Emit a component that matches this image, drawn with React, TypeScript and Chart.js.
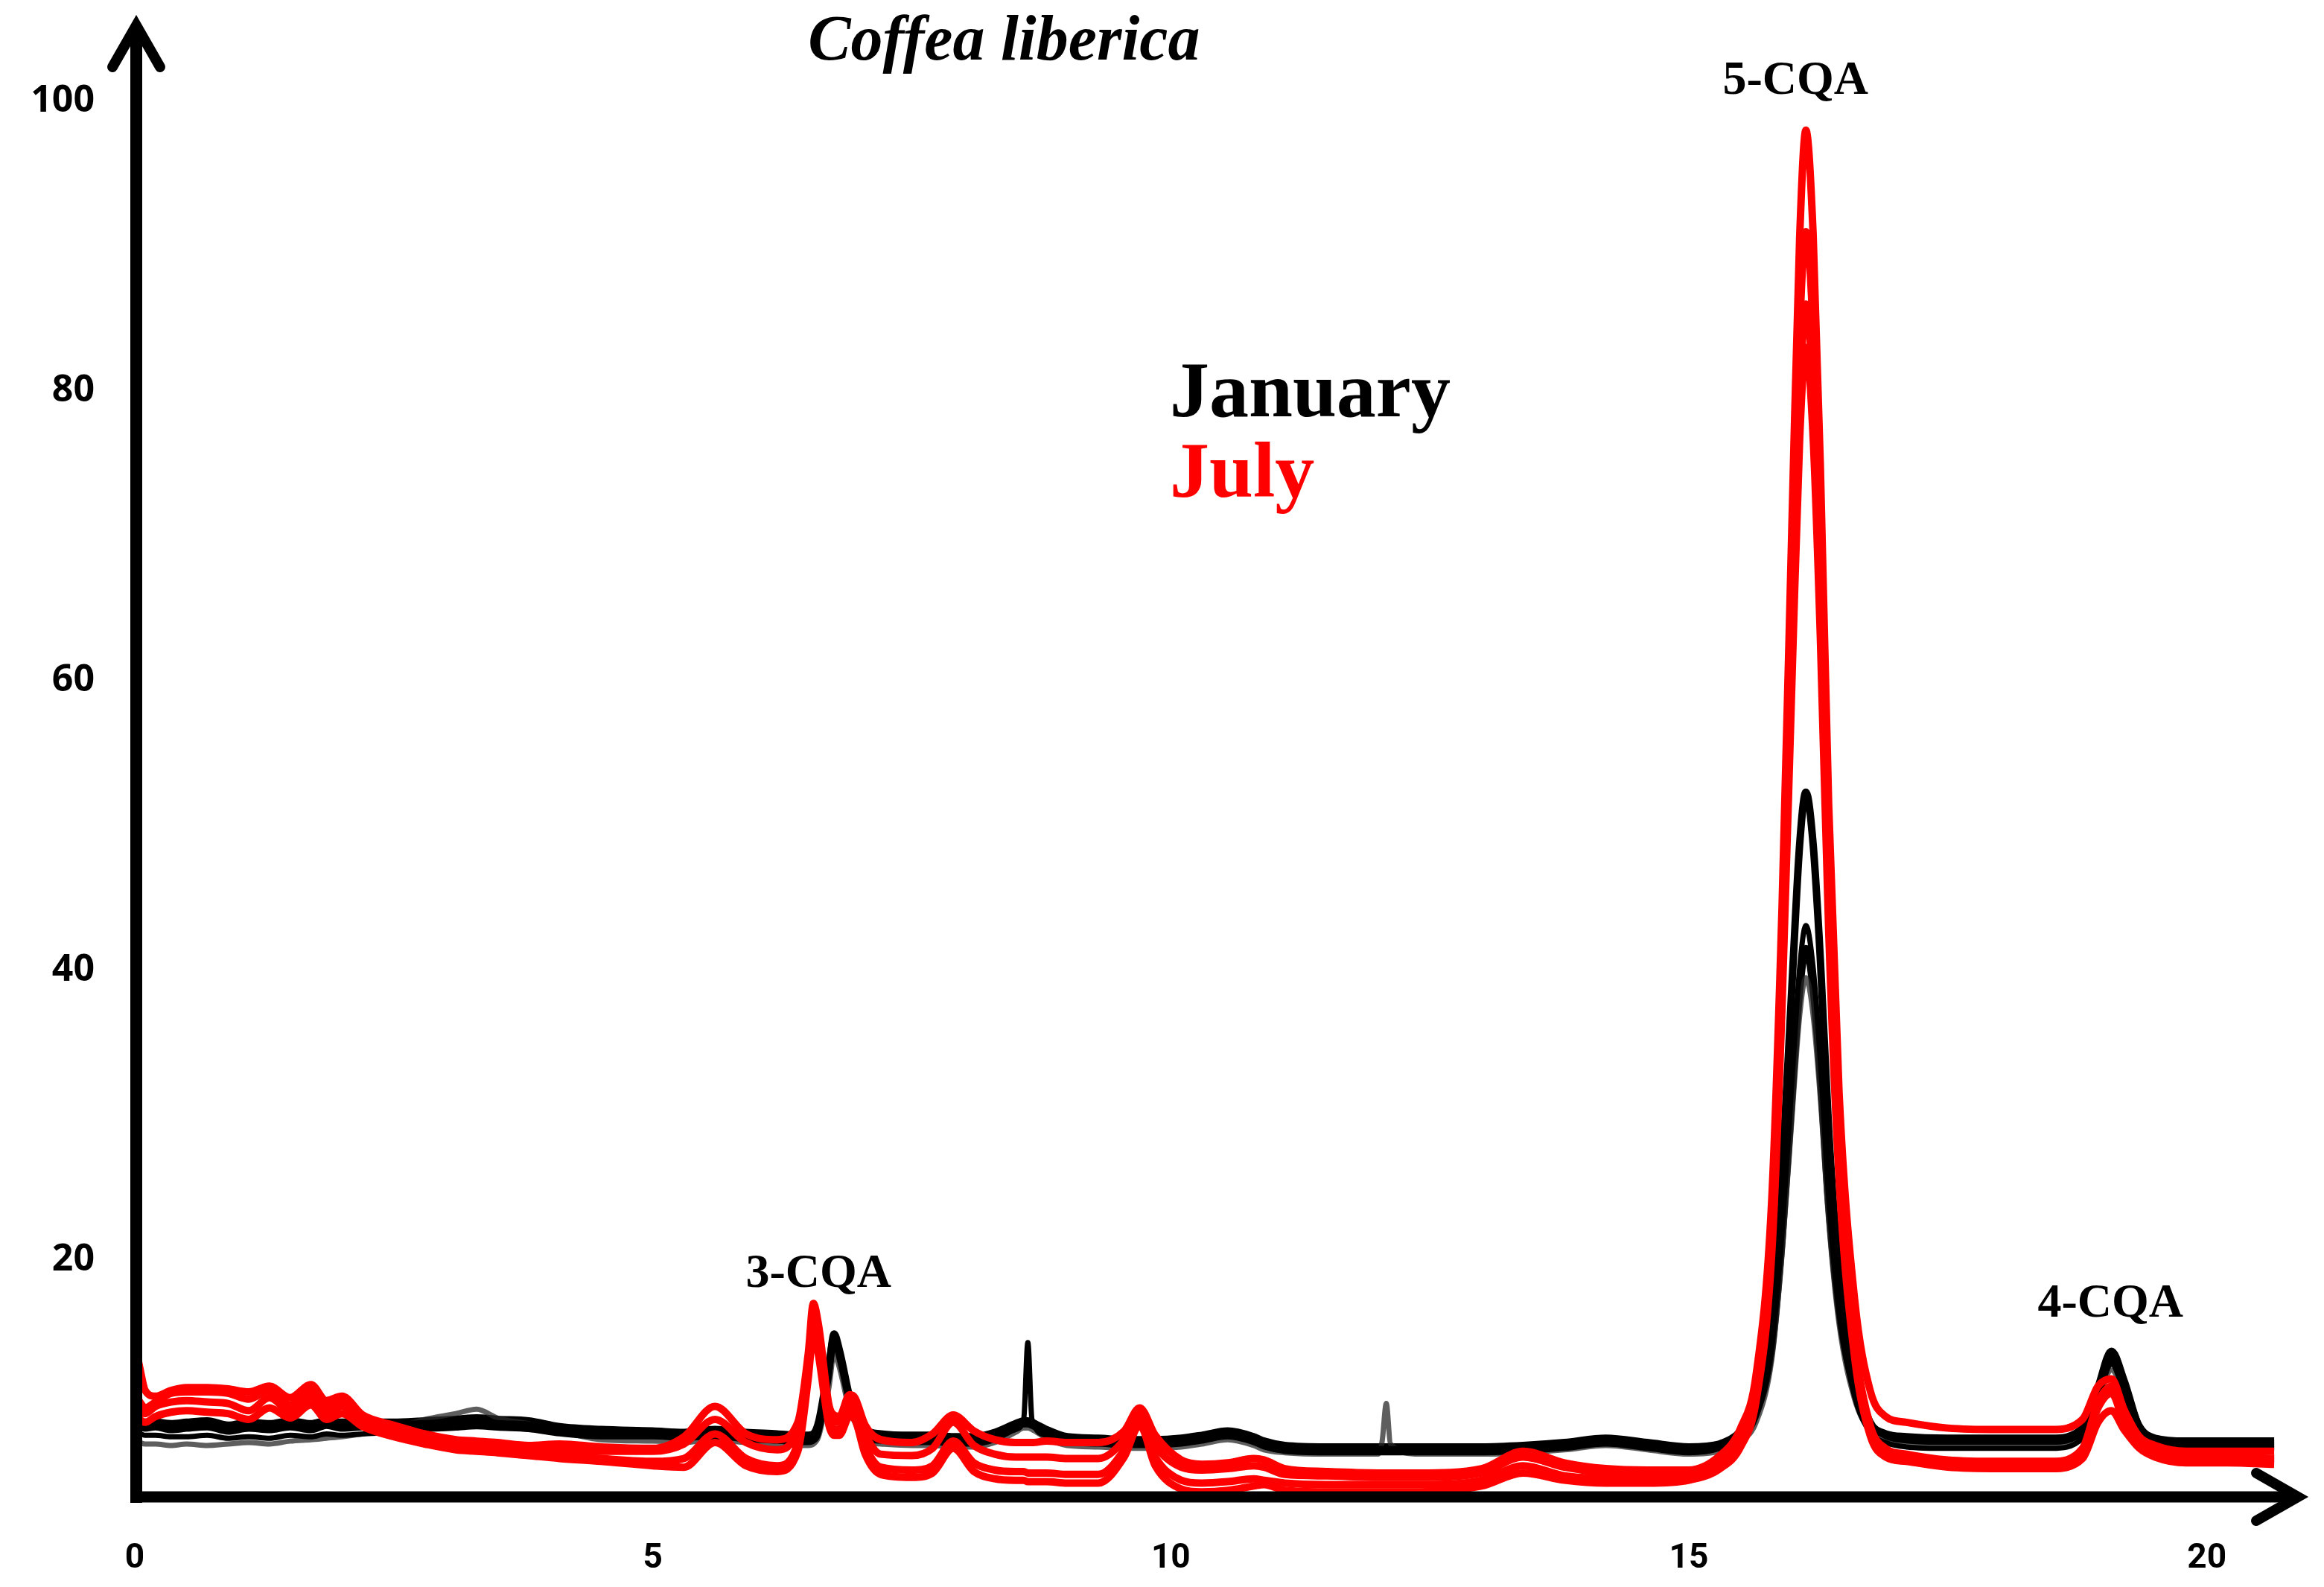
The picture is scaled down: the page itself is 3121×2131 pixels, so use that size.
import React, { useEffect, useRef } from 'react';
import { Chart, registerables } from 'chart.js';

Chart.register(...registerables);

// Retention time (min)
const retentionTime = [
  0, 0.05, 0.1, 0.2, 0.35, 0.5, 0.7, 0.9, 1.1, 1.3,
  1.5, 1.7, 1.85, 2.0, 2.2, 2.5, 2.8, 3.1, 3.3, 3.5,
  3.8, 4.1, 4.5, 5.0, 5.3, 5.6, 5.9, 6.2, 6.4, 6.5,
  6.55, 6.6, 6.7, 6.75, 6.8, 6.9, 6.95, 7.05, 7.2, 7.5,
  7.7, 7.9, 8.1, 8.3, 8.5, 8.58, 8.62, 8.66, 8.8, 9.0,
  9.3, 9.55, 9.7, 9.85, 10.1, 10.3, 10.55, 10.8, 10.9, 11.1,
  11.5, 12.0, 12.04, 12.08, 12.12, 12.4, 13.0, 13.4, 13.8, 14.2,
  14.6, 15.0, 15.3, 15.5, 15.65, 15.8, 15.9, 16.0, 16.07, 16.13,
  16.2, 16.27, 16.35, 16.45, 16.6, 16.75, 16.9, 17.1, 17.5, 18.0,
  18.5, 18.8, 18.95, 19.08, 19.2, 19.35, 19.5, 19.8, 20.2, 20.65,
];

// July runs (red)
const july1 = [
  14.3, 12.5, 11.0, 10.6, 11.0, 11.2, 11.2, 11.1, 10.9, 11.3,
  10.5, 11.4, 10.3, 10.6, 9.3, 8.6, 8.0, 7.6, 7.5, 7.4,
  7.2, 7.3, 7.1, 7.0, 7.8, 9.9, 8.0, 7.6, 8.8, 13.5,
  17.0, 15.5, 10.0, 9.3, 9.2, 10.7, 10.5, 8.6, 7.6, 7.4,
  8.0, 9.3, 8.2, 7.6, 7.4, 7.4, 7.4, 7.4, 7.5, 7.4,
  7.4, 8.2, 9.8, 7.9, 6.2, 5.9, 6.0, 6.3, 6.2, 5.6,
  5.4, 5.3, 5.3, 5.3, 5.3, 5.3, 5.6, 6.8, 6.0, 5.6,
  5.5, 5.5, 6.5, 8.4, 12.1, 24.1, 44.4, 72.1, 90.6, 98,
  90.8, 74.7, 51.4, 31.6, 17.3, 11.0, 9.2, 8.8, 8.4, 8.3,
  8.3, 9.0, 11.3, 11.8, 9.7, 7.8, 7.2, 6.8, 6.8, 6.8,
];
const july2 = [
  10.8, 10.2, 9.8, 10.2, 10.8, 10.9, 10.9, 10.8, 10.4, 11.0,
  10.0, 11.0, 9.9, 10.3, 9.0, 8.4, 7.8, 7.4, 7.3, 7.2,
  7.0, 6.9, 6.8, 6.8, 7.3, 9.0, 7.4, 6.9, 8.5, 13.0,
  16.2, 14.8, 9.6, 8.8, 8.8, 10.2, 10.0, 8.0, 6.6, 6.5,
  7.0, 8.8, 7.2, 6.6, 6.4, 6.4, 6.4, 6.4, 6.4, 6.3,
  6.3, 7.6, 9.5, 7.2, 5.7, 5.5, 5.6, 5.8, 5.7, 5.2,
  5.1, 5.0, 5.0, 5.0, 5.0, 5.0, 5.3, 6.4, 5.7, 5.3,
  5.2, 5.3, 6.3, 8.0, 11.4, 22.5, 41.4, 67.0, 84.2, 91,
  84.2, 68.9, 46.9, 28.2, 14.6, 8.6, 7.0, 6.6, 6.2, 6.1,
  6.1, 7.0, 10.2, 11.3, 9.2, 7.4, 6.8, 6.4, 6.4, 6.3,
];
const july3 = [
  10.2, 9.6, 9.4, 9.9, 10.2, 10.3, 10.2, 10.1, 9.6, 10.5,
  9.6, 10.5, 9.5, 9.9, 8.8, 8.1, 7.5, 7.1, 7.0, 6.9,
  6.7, 6.5, 6.3, 6.1, 6.3, 8.0, 6.3, 5.8, 7.4, 12.3,
  15.5, 14.0, 9.0, 8.3, 8.3, 9.7, 9.5, 7.2, 5.7, 5.5,
  5.8, 7.5, 6.0, 5.5, 5.4, 5.4, 5.3, 5.3, 5.3, 5.2,
  5.2, 6.9, 9.0, 6.4, 4.8, 4.6, 4.7, 4.9, 4.8, 4.6,
  4.5, 4.5, 4.5, 4.5, 4.5, 4.5, 4.8, 5.8, 5.1, 4.9,
  4.8, 5.0, 5.9, 7.5, 10.8, 21.3, 39.1, 63.3, 79.5, 86,
  79.6, 65.2, 44.3, 26.7, 13.9, 8.3, 6.7, 6.4, 6.0, 5.9,
  5.9, 6.8, 9.8, 10.8, 8.8, 7.2, 6.6, 6.2, 6.2, 6.1,
];
const july4 = [
  9.6, 9.0, 8.8, 9.2, 9.5, 9.6, 9.5, 9.4, 9.0, 9.8,
  9.1, 10.0, 9.0, 9.4, 8.5, 7.8, 7.3, 6.9, 6.8, 6.7,
  6.5, 6.3, 6.1, 5.8, 5.7, 7.4, 5.8, 5.4, 6.8, 11.8,
  15.0, 13.4, 8.6, 7.9, 7.9, 9.2, 9.0, 6.6, 5.2, 5.0,
  5.3, 7.0, 5.4, 4.9, 4.8, 4.8, 4.7, 4.7, 4.7, 4.6,
  4.6, 6.4, 8.6, 5.8, 4.2, 4.0, 4.1, 4.4, 4.5, 4.1,
  4.0, 4.0, 4.0, 4.0, 4.0, 4.0, 4.4, 5.3, 4.8, 4.6,
  4.6, 4.8, 5.6, 7.1, 10.3, 20.4, 37.6, 61.1, 76.7, 83,
  76.8, 62.9, 42.8, 25.7, 13.3, 7.9, 6.4, 6.1, 5.7, 5.6,
  5.6, 6.3, 8.8, 9.6, 8.3, 7.0, 6.4, 6.0, 6.0, 5.9,
];

// January runs (black)
const january1 = [
  8.6, 8.5, 8.4, 8.5, 8.3, 8.4, 8.5, 8.2, 8.4, 8.3,
  8.5, 8.3, 8.6, 8.4, 8.5, 8.6, 8.7, 8.8, 8.9, 8.7,
  8.6, 8.2, 8.0, 8.0, 7.9, 8.1, 7.9, 7.8, 7.7, 7.7,
  7.8, 8.5, 12.5, 14.9, 13.8, 10.5, 9.3, 8.0, 7.8, 7.7,
  7.7, 7.6, 7.6, 7.9, 8.5, 8.7, 8.7, 8.6, 8.1, 7.6,
  7.5, 7.4, 7.4, 7.4, 7.5, 7.7, 8.0, 7.6, 7.3, 7.0,
  6.9, 6.9, 6.9, 6.9, 6.9, 6.9, 6.9, 7.0, 7.2, 7.5,
  7.2, 6.9, 7.3, 8.2, 10.0, 15.9, 25.9, 39.6, 48.7, 52.3,
  48.7, 40.7, 29.0, 19.1, 12.0, 8.8, 7.9, 7.6, 7.5, 7.5,
  7.5, 8.2, 11.2, 13.7, 11.7, 8.4, 7.5, 7.3, 7.3, 7.3,
];
const january2 = [
  8.0, 8.0, 7.9, 7.9, 7.8, 7.8, 7.9, 7.7, 7.8, 7.7,
  7.9, 7.8, 8.0, 7.9, 8.0, 8.1, 8.3, 8.4, 8.5, 8.4,
  8.3, 8.0, 7.8, 7.8, 7.7, 7.8, 7.6, 7.5, 7.4, 7.4,
  7.5, 8.0, 11.8, 14.2, 13.2, 10.0, 9.0, 7.7, 7.5, 7.4,
  7.4, 7.3, 7.3, 7.6, 8.3, 9.0, 14.3, 9.0, 7.9, 7.4,
  7.3, 7.2, 7.2, 7.2, 7.3, 7.5, 7.8, 7.4, 7.1, 6.8,
  6.7, 6.7, 6.7, 6.7, 6.7, 6.7, 6.7, 6.8, 7.0, 7.3,
  7.0, 6.7, 7.0, 7.7, 9.2, 13.9, 21.9, 32.9, 40.2, 43.1,
  40.2, 33.7, 24.3, 16.4, 10.6, 8.1, 7.4, 7.1, 7.0, 7.0,
  7.0, 7.7, 10.5, 12.8, 10.9, 8.0, 7.2, 7.0, 7.0, 7.0,
];
const january3 = [
  7.5, 7.4, 7.3, 7.3, 7.2, 7.3, 7.2, 7.3, 7.4, 7.3,
  7.5, 7.6, 7.7, 7.8, 8.0, 8.4, 9.0, 9.4, 9.7, 9.1,
  8.7, 8.2, 7.6, 7.5, 7.4, 7.6, 7.4, 7.3, 7.2, 7.2,
  7.3, 7.8, 11.2, 13.5, 12.6, 9.6, 8.8, 7.5, 7.3, 7.2,
  7.2, 7.1, 7.1, 7.4, 8.1, 8.4, 8.4, 8.3, 7.7, 7.2,
  7.1, 7.0, 7.0, 7.0, 7.1, 7.3, 7.6, 7.2, 6.9, 6.7,
  6.6, 6.6, 7.5, 10.1, 7.3, 6.6, 6.6, 6.7, 6.9, 7.2,
  6.9, 6.6, 6.8, 7.5, 8.8, 13.1, 20.4, 30.3, 36.9, 39.5,
  36.9, 31.1, 22.7, 15.6, 10.4, 8.2, 7.5, 7.3, 7.2, 7.2,
  7.2, 7.8, 10.3, 12.4, 10.7, 8.1, 7.4, 7.2, 7.1, 7.1,
];
const january4 = [
  8.9, 8.8, 8.8, 8.8, 8.7, 8.8, 8.9, 8.6, 8.8, 8.7,
  8.9, 8.7, 8.9, 8.8, 8.8, 8.8, 8.9, 9.0, 9.1, 9.0,
  8.9, 8.5, 8.3, 8.2, 8.1, 8.3, 8.1, 8.0, 7.9, 7.9,
  8.0, 8.8, 12.8, 14.6, 13.5, 10.3, 9.5, 8.3, 8.0, 7.9,
  7.9, 7.8, 7.8, 8.1, 8.7, 8.9, 8.9, 8.8, 8.3, 7.8,
  7.7, 7.6, 7.6, 7.6, 7.7, 7.9, 8.2, 7.8, 7.5, 7.2,
  7.1, 7.1, 7.1, 7.1, 7.1, 7.1, 7.1, 7.2, 7.4, 7.7,
  7.4, 7.1, 7.3, 8.0, 9.4, 13.9, 21.5, 31.8, 38.7, 41.5,
  38.8, 32.7, 23.9, 16.5, 11.1, 8.7, 8.0, 7.8, 7.7, 7.7,
  7.7, 8.4, 11.0, 13.2, 11.3, 8.5, 7.7, 7.5, 7.5, 7.5,
];

const xTickValues = [0, 5, 10, 15, 20];
const yTickValues = [20, 40, 60, 80, 100];
const X_MIN = 0;
const X_MAX = 20.98;
const Y_MIN = 3.65;
const Y_MAX = 105.96;

const chartTitle = 'Coffea liberica';
const legendLabels = ['January', 'July'];
const peakLabels = ['3-CQA', '5-CQA', '4-CQA'];
const peakLabelPos = [
  [6.6, 18.15],
  [16.03, 100.5],
  [19.07, 16.1],
];

const RED = '#ff0000';
const BLACK = '#000000';

const decorPlugin = {
  id: 'decor',
  afterDraw(chart: any) {
    const { ctx, chartArea: a, scales } = chart;
    const xs = scales.x;
    const ys = scales.y;
    ctx.save();
    ctx.strokeStyle = '#000';
    ctx.fillStyle = '#000';
    // axis lines
    ctx.lineCap = 'butt';
    ctx.lineWidth = 16;
    ctx.beginPath();
    ctx.moveTo(a.left + 2, a.bottom + 8);
    ctx.lineTo(a.left + 2, a.top + 14);
    ctx.stroke();
    ctx.lineWidth = 15;
    ctx.beginPath();
    ctx.moveTo(a.left - 6, a.bottom);
    ctx.lineTo(a.right - 14, a.bottom);
    ctx.stroke();
    // arrow heads
    ctx.lineWidth = 14;
    ctx.lineCap = 'round';
    ctx.lineJoin = 'miter';
    ctx.beginPath();
    ctx.moveTo(a.left + 2 - 32, a.top + 70);
    ctx.lineTo(a.left + 2, a.top + 14);
    ctx.lineTo(a.left + 2 + 32, a.top + 70);
    ctx.stroke();
    ctx.beginPath();
    ctx.moveTo(a.right - 70, a.bottom - 32);
    ctx.lineTo(a.right - 14, a.bottom);
    ctx.lineTo(a.right - 70, a.bottom + 32);
    ctx.stroke();

    // title
    ctx.textAlign = 'center';
    ctx.textBaseline = 'alphabetic';
    ctx.font = 'italic bold 86px "Liberation Serif", "DejaVu Serif", serif';
    ctx.fillText(chartTitle, xs.getPixelForValue(8.39), ys.getPixelForValue(102.9));

    // peak labels
    ctx.font = 'bold 64px "Liberation Serif", "DejaVu Serif", serif';
    peakLabels.forEach((lab, i) => {
      ctx.fillText(lab, xs.getPixelForValue(peakLabelPos[i][0]), ys.getPixelForValue(peakLabelPos[i][1]));
    });

    // legend text
    ctx.textAlign = 'left';
    ctx.font = 'bold 106px "Liberation Serif", "DejaVu Serif", serif';
    ctx.fillStyle = BLACK;
    ctx.fillText(legendLabels[0], xs.getPixelForValue(9.99), ys.getPixelForValue(78.25));
    ctx.fillStyle = RED;
    ctx.fillText(legendLabels[1], xs.getPixelForValue(9.99), ys.getPixelForValue(72.7));
    ctx.restore();
  },
};

function toPoints(values: number[]) {
  return retentionTime.map((t, i) => ({ x: t, y: values[i] }));
}

export default function App() {
  const canvasRef = useRef<HTMLCanvasElement | null>(null);

  useEffect(() => {
    if (!canvasRef.current) return;
    const mk = (label: string, values: number[], color: string, width: number) => ({
      label,
      data: toPoints(values),
      borderColor: color,
      backgroundColor: color,
      borderWidth: width,
      pointRadius: 0,
      fill: false,
      cubicInterpolationMode: 'monotone' as const,
      tension: 0.4,
    });
    const chart = new Chart(canvasRef.current, {
      type: 'line',
      data: {
        datasets: [
          mk('July 1', july1, RED, 10),
          mk('July 2', july2, RED, 10),
          mk('July 3', july3, RED, 10),
          mk('July 4', july4, RED, 10),
          mk('January 1', january1, BLACK, 10),
          mk('January 2', january2, BLACK, 7),
          mk('January 3', january3, 'rgba(40,40,40,0.75)', 7),
          mk('January 4', january4, BLACK, 10),
        ],
      },
      options: {
        animation: false,
        responsive: true,
        maintainAspectRatio: false,
        layout: { padding: { top: 20, right: 21, left: 0, bottom: 0 } },
        plugins: {
          legend: { display: false },
          tooltip: { enabled: false },
          title: { display: false },
        },
        scales: {
          x: {
            type: 'linear',
            min: X_MIN,
            max: X_MAX,
            grid: { display: false, drawTicks: false },
            border: { display: false },
            ticks: {
              color: '#000',
              padding: 56,
              maxRotation: 0,
              autoSkip: false,
              font: { family: '"Liberation Sans Narrow", "Roboto", sans-serif', size: 46, weight: 'bold' },
            },
            afterBuildTicks: (s: any) => {
              s.ticks = xTickValues.map((v) => ({ value: v }));
            },
            afterFit: (s: any) => {
              s.height = 121;
              s.paddingLeft = 0;
              s.paddingRight = 0;
            },
          },
          y: {
            type: 'linear',
            min: Y_MIN,
            max: Y_MAX,
            grid: { display: false, drawTicks: false },
            border: { display: false },
            ticks: {
              color: '#000',
              padding: 54,
              font: { family: '"Open Sans", Lato, sans-serif', size: 50, weight: 'bold' },
            },
            afterBuildTicks: (s: any) => {
              s.ticks = yTickValues.map((v) => ({ value: v }));
            },
            afterFit: (s: any) => {
              s.width = 181;
              s.paddingTop = 0;
              s.paddingBottom = 0;
            },
          },
        },
      },
      plugins: [decorPlugin],
    });
    return () => chart.destroy();
  }, []);

  return (
    <div style={{ position: 'absolute', left: 0, top: 0, width: 3121, height: 2131, background: '#fff' }}>
      <canvas ref={canvasRef} />
    </div>
  );
}
